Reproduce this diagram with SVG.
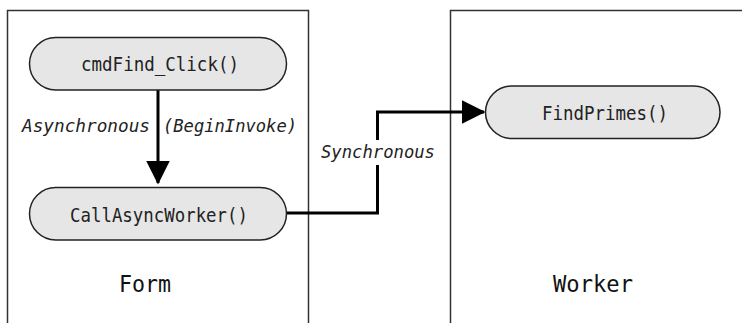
<svg xmlns="http://www.w3.org/2000/svg" width="742" height="323" viewBox="0 0 742 323">
<defs>
<style>
.box{fill:#fff;stroke:#333;stroke-width:1.5}
.pill{fill:#e6e6e6;stroke:#222;stroke-width:1.5}
.t{font-family:"DejaVu Sans Mono","Liberation Mono",monospace;font-size:19px;fill:#222}
.lbl{font-family:"DejaVu Sans Mono","Liberation Mono",monospace;font-size:18.5px;font-style:italic;fill:#222}
.title{font-family:"DejaVu Sans Mono","Liberation Mono",monospace;font-size:23px;fill:#111}
.conn{fill:none;stroke:#000;stroke-width:3}
</style>
<marker id="ah" markerWidth="8" markerHeight="8" refX="7.5" refY="4" orient="auto" markerUnits="strokeWidth" viewBox="0 0 8 8">
<path d="M0,0 L8,4 L0,8 Z" fill="#000"/>
</marker>
</defs>
<rect width="742" height="323" fill="#fff"/>
<g id="form">
<path class="box" d="M7.5,330 V10.5 H308.5 V330"/>
<text class="title" x="119" y="292" textLength="52" lengthAdjust="spacingAndGlyphs">Form</text>
</g>
<g id="worker">
<path class="box" d="M450.5,330 V10.5 H750"/>
<text class="title" x="553" y="291.5" textLength="80" lengthAdjust="spacingAndGlyphs">Worker</text>
</g>
<g id="connectors">
<line class="conn" x1="158" y1="90" x2="158" y2="183" marker-end="url(#ah)"/>
<text class="lbl" x="22" y="132" textLength="128" lengthAdjust="spacingAndGlyphs">Asynchronous</text>
<text class="lbl" x="163" y="132" textLength="134" lengthAdjust="spacingAndGlyphs">(BeginInvoke)</text>
<path class="conn" d="M287,213 H377.5 V112 H484" marker-end="url(#ah)"/>
<rect x="318" y="140" width="120" height="25" fill="#fff"/>
<text class="lbl" x="321" y="158" textLength="114" lengthAdjust="spacingAndGlyphs">Synchronous</text>
</g>
<g id="cmdFind">
<rect class="pill" x="29.5" y="37.5" width="257" height="52.5" rx="26.25"/>
<text class="t" x="81" y="71" textLength="158" lengthAdjust="spacingAndGlyphs">cmdFind_Click()</text>
</g>
<g id="callAsync">
<rect class="pill" x="29.5" y="187.5" width="257" height="52.5" rx="26.25"/>
<text class="t" x="70" y="221.5" textLength="178" lengthAdjust="spacingAndGlyphs">CallAsyncWorker()</text>
</g>
<g id="findPrimes">
<rect class="pill" x="485.5" y="86" width="234.5" height="52.5" rx="26.25"/>
<text class="t" x="542" y="120" textLength="126" lengthAdjust="spacingAndGlyphs">FindPrimes()</text>
</g>
</svg>
